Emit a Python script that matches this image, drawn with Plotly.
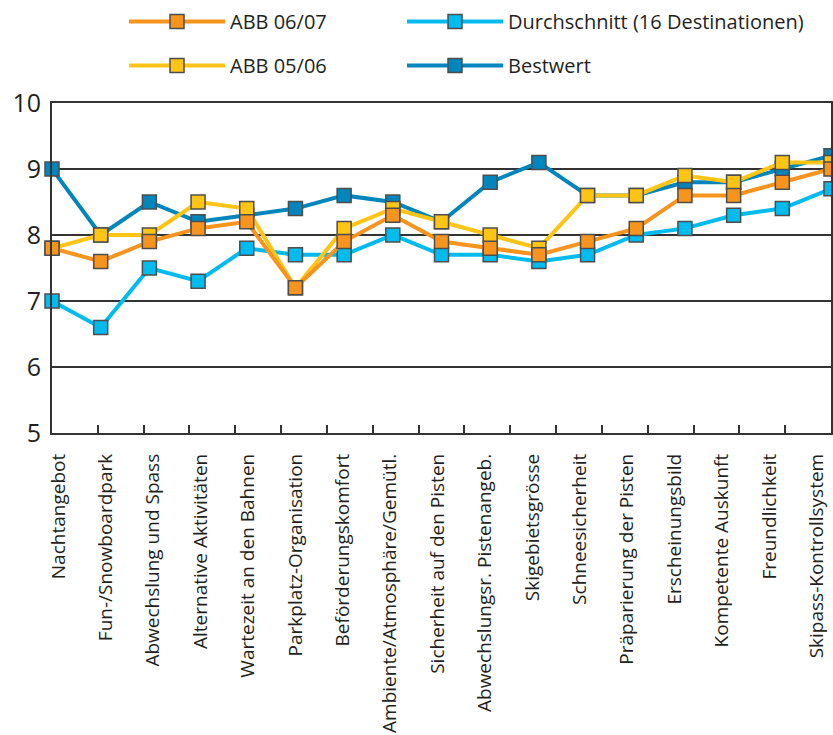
import plotly.graph_objects as go

categories = [
    "Nachtangebot", "Fun-/Snowboardpark", "Abwechslung und Spass",
    "Alternative Aktivitäten", "Wartezeit an den Bahnen", "Parkplatz-Organisation",
    "Beförderungskomfort", "Ambiente/Atmosphäre/Gemütl.", "Sicherheit auf den Pisten",
    "Abwechslungsr. Pistenangeb.", "Skigebietsgrösse", "Schneesicherheit",
    "Präparierung der Pisten", "Erscheinungsbild", "Kompetente Auskunft",
    "Freundlichkeit", "Skipass-Kontrollsystem",
]

abb_0607 = [7.8, 7.6, 7.9, 8.1, 8.2, 7.2, 7.9, 8.3, 7.9, 7.8, 7.7, 7.9, 8.1, 8.6, 8.6, 8.8, 9.0]
abb_0506 = [7.8, 8.0, 8.0, 8.5, 8.4, 7.2, 8.1, 8.4, 8.2, 8.0, 7.8, 8.6, 8.6, 8.9, 8.8, 9.1, 9.1]
durchschnitt = [7.0, 6.6, 7.5, 7.3, 7.8, 7.7, 7.7, 8.0, 7.7, 7.7, 7.6, 7.7, 8.0, 8.1, 8.3, 8.4, 8.7]
bestwert = [9.0, 8.0, 8.5, 8.2, 8.3, 8.4, 8.6, 8.5, 8.2, 8.8, 9.1, 8.6, 8.6, 8.8, 8.8, 9.0, 9.2]

FONT = "Open Sans, Noto Sans, sans-serif"
TEXT = "#231f20"
AXIS = "#333333"
n = len(categories)
idx = list(range(n))

# (name, values, colour, legend, rank) in drawing order: bottom to top
series = [
    ("Durchschnitt (16 Destinationen)", durchschnitt, "#00bbee", "legend2", 1),
    ("Bestwert", bestwert, "#0086bc", "legend2", 2),
    ("ABB 05/06", abb_0506, "#ffc414", "legend", 2),
    ("ABB 06/07", abb_0607, "#f7941e", "legend", 1),
]

fig = go.Figure()
for name, vals, col, leg, rank in series:
    fig.add_trace(go.Scatter(
        x=idx, y=vals, name=name, mode="lines+markers",
        line=dict(color=col, width=4),
        marker=dict(symbol="square", size=14, color=col,
                    line=dict(color="#4d4d4d", width=1.5)),
        cliponaxis=False, legend=leg, legendrank=rank, legendgroup=name,
    ))

# hidden carriers so the overlay axes (boundary ticks, category labels) are drawn
for ax in ("x2", "x3"):
    fig.add_trace(go.Scatter(
        x=idx, y=durchschnitt, xaxis=ax, yaxis="y", mode="lines",
        line=dict(width=0), opacity=0, showlegend=False, hoverinfo="skip",
    ))

legend_common = dict(
    orientation="v", xref="container", yref="container",
    xanchor="left", yanchor="top", y=1 - 2 / 735,
    font=dict(family=FONT, size=20, color=TEXT),
    traceorder="grouped", tracegroupgap=15, bgcolor="rgba(0,0,0,0)",
    itemwidth=96,
)

fig.update_layout(
    width=833, height=735,
    margin=dict(l=52, r=2, t=103, b=302, autoexpand=False),
    paper_bgcolor="white", plot_bgcolor="white",
    font=dict(family=FONT, color=TEXT),
    legend=dict(**legend_common, x=124 / 833),
    legend2=dict(**legend_common, x=402 / 833),
    xaxis=dict(
        range=[0, n - 1], showgrid=False, zeroline=False,
        showticklabels=False, ticks="",
        showline=True, linecolor=AXIS, linewidth=2, mirror=True,
    ),
    # category boundary tick marks
    xaxis2=dict(
        overlaying="x", anchor="y", side="bottom", range=[0, n],
        tickmode="linear", tick0=0, dtick=1,
        ticks="inside", ticklen=8, tickwidth=2, tickcolor=AXIS,
        showticklabels=False, showgrid=False, zeroline=False, showline=False,
    ),
    # category labels
    xaxis3=dict(
        overlaying="x", anchor="y", side="bottom", range=[-0.137, 16.297],
        tickmode="array", tickvals=idx, ticktext=categories, tickangle=-90,
        ticks="", showgrid=False, zeroline=False, showline=False,
        tickfont=dict(family=FONT, size=19, color=TEXT),
        ticklabelstandoff=16,
    ),
    yaxis=dict(
        range=[5, 10], tickmode="linear", tick0=5, dtick=1,
        showgrid=True, gridcolor=AXIS, gridwidth=2, zeroline=False,
        showline=True, linecolor=AXIS, linewidth=2, mirror=True,
        ticks="", tickfont=dict(family=FONT, size=25, color=TEXT),
        ticklabelstandoff=4,
    ),
)

fig.write_html("out.html")
